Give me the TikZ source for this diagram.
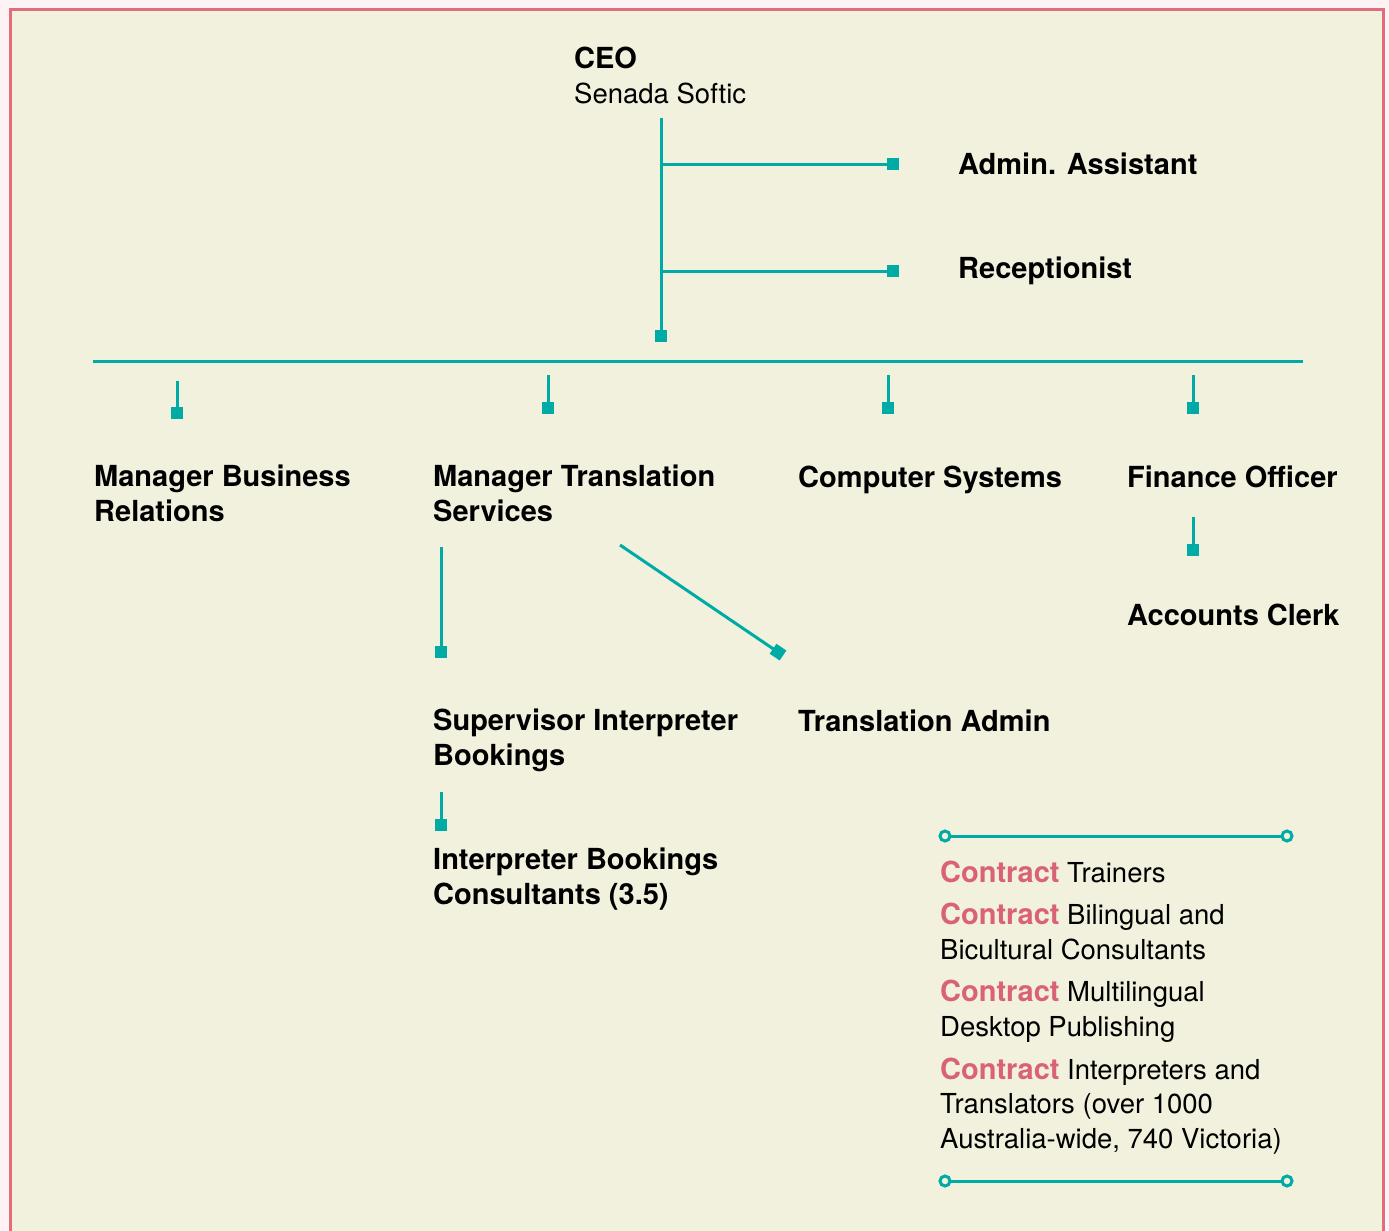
\documentclass[tikz,border=0pt]{standalone}
\usepackage{fontspec}
\setmainfont{TeX Gyre Heros}
\usetikzlibrary{arrows.meta}
\definecolor{orgteal}{RGB}{0,171,166}
\definecolor{orgpink}{RGB}{218,98,118}
\definecolor{orgframe}{RGB}{226,108,122}
\definecolor{orgpaper}{RGB}{242,241,222}
\newcommand\contract{{\fontsize{29}{34}\selectfont\bfseries\color{orgpink}Contract}}
\tikzset{
  role/.style={anchor=base west, inner sep=0pt, align=left,
    font=\fontsize{29}{34.5}\selectfont\bfseries},
  plain/.style={anchor=base west, inner sep=0pt, align=left,
    font=\fontsize{27.5}{34.5}\selectfont},
  link/.style={draw=orgteal, line width=3pt, -{Square[length=12pt,width=12pt]}},
  bar/.style={draw=orgteal, line width=3pt},
  rule/.style={draw=orgteal, line width=3pt,
    {Circle[open,length=13pt,width=13pt]}-{Circle[open,length=13pt,width=13pt]}}
}
\begin{document}
\begin{tikzpicture}[x=1pt,y=-1pt]
  \useasboundingbox (0,0) rectangle (1389,1231);
  \fill[orgframe!8] (0,0) rectangle (1389,1231);
  \filldraw[fill=orgpaper, draw=orgframe, line width=3pt] (10,10) rectangle (1383,1260);

  % people (multi-line nodes sit on their last baseline)
  \node[role] (CEO) at (574,68) {CEO};
  \node[plain] (name) at (574,103) {Senada Softic};
  \node[role] (AA) at (958,174) {Admin. Assistant};
  \node[role] (REC) at (958,278) {Receptionist};
  \node[role] (MBR) at (94,521) {Manager Business\\Relations};
  \node[role] (MTS) at (433,521) {Manager Translation\\Services};
  \node[role] (CS) at (798,487) {Computer Systems};
  \node[role] (FO) at (1127,487) {Finance Officer};
  \node[role] (AC) at (1127,625) {Accounts Clerk};
  \node[role] (SIB) at (433,765) {Supervisor Interpreter\\Bookings};
  \node[role] (TA) at (798,731) {Translation Admin};
  \node[role] (IBC) at (433,904) {Interpreter Bookings\\Consultants (3.5)};

  % contract staff
  \node[plain] (ct1) at (940,882) {\contract{} Trainers};
  \node[plain] (ct2) at (940,959) {\contract{} Bilingual and\\Bicultural Consultants};
  \node[plain] (ct3) at (940,1036) {\contract{} Multilingual\\Desktop Publishing};
  \node[plain] (ct4) at (940,1148) {\contract{} Interpreters and\\Translators (over 1000\\Australia-wide, 740 Victoria)};

  % connector ends
  \coordinate (ceoA) at (661,118);
  \coordinate (ceoB) at (661,342);
  \coordinate (aaA) at (661,164);
  \coordinate (aaB) at (899,164);
  \coordinate (recA) at (661,271);
  \coordinate (recB) at (899,271);
  \coordinate (barL) at (93,361);
  \coordinate (barR) at (1303,361);
  \coordinate (mbrA) at (177,381);
  \coordinate (mbrB) at (177,419);
  \coordinate (mtsA) at (548,375);
  \coordinate (mtsB) at (548,414);
  \coordinate (csA) at (888,375);
  \coordinate (csB) at (888,414);
  \coordinate (foA) at (1193,375);
  \coordinate (foB) at (1193,414);
  \coordinate (acA) at (1193,517);
  \coordinate (acB) at (1193,556);
  \coordinate (sibA) at (441,547);
  \coordinate (sibB) at (441,658);
  \coordinate (taA) at (620,545);
  \coordinate (taB) at (783,655.5);
  \coordinate (ibcA) at (441,792);
  \coordinate (ibcB) at (441,831);
  \coordinate (topL) at (938.5,836);
  \coordinate (topR) at (1293.5,836);
  \coordinate (botL) at (938.5,1181);
  \coordinate (botR) at (1293.5,1181);

  \draw[link] (ceoA) -- (ceoB);
  \draw[link] (aaA) -- (aaB);
  \draw[link] (recA) -- (recB);
  \draw[bar] (barL) -- (barR);
  \draw[link] (mbrA) -- (mbrB);
  \draw[link] (mtsA) -- (mtsB);
  \draw[link] (csA) -- (csB);
  \draw[link] (foA) -- (foB);
  \draw[link] (acA) -- (acB);
  \draw[link] (sibA) -- (sibB);
  \draw[link] (taA) -- (taB);
  \draw[link] (ibcA) -- (ibcB);
  \draw[rule] (topL) -- (topR);
  \draw[rule] (botL) -- (botR);
\end{tikzpicture}
\end{document}
